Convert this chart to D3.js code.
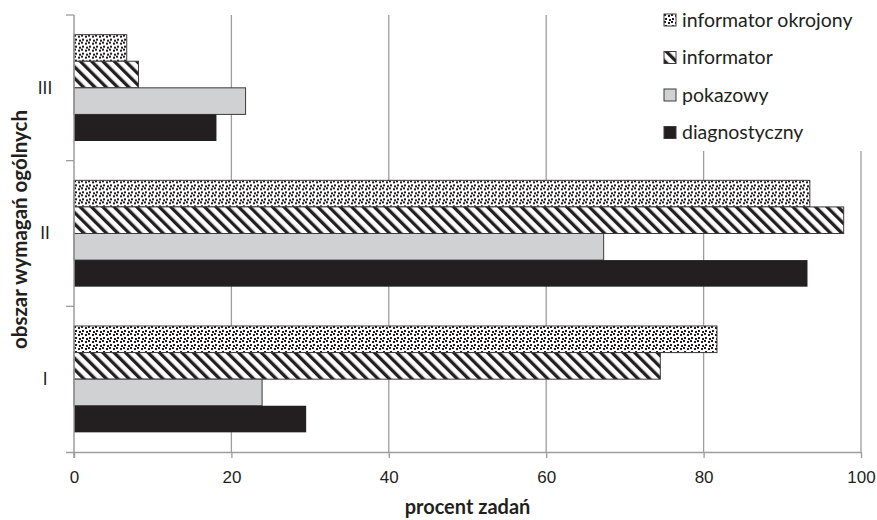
<!DOCTYPE html>
<html>
<head>
<meta charset="utf-8">
<script src="https://cdn.jsdelivr.net/npm/d3@7"></script>
<style>
  body { margin: 0; background: #fff; overflow: hidden; }
  svg { display: block; font-family: Lato, "Open Sans", sans-serif; }
</style>
</head>
<body>
<div id="chart"></div>
<script>
// obszary wymagań (od dołu do góry) i serie (od góry do dołu w grupie)
const categories = ["I", "II", "III"];
const seriesNames = ["informator okrojony", "informator", "pokazowy", "diagnostyczny"];

const okrojony = [81.7, 93.5, 6.7];
const informator = [74.5, 97.8, 8.2];
const pokazowy = [23.9, 67.3, 21.8];
const diagnostyczny = [29.5, 93.2, 18.1];

const xTicks = [0, 20, 40, 60, 80, 100];

const seriesValues = [okrojony, informator, pokazowy, diagnostyczny];

const width = 877, height = 520;
const margin = {top: 15, right: 16, bottom: 68, left: 74};
const innerWidth = width - margin.left - margin.right;
const innerHeight = height - margin.top - margin.bottom;

const svg = d3.select("#chart").append("svg")
  .attr("width", width)
  .attr("height", height);

// wzory wypełnień
const defs = svg.append("defs");

const dots = defs.append("pattern")
  .attr("id", "pat-dots")
  .attr("patternUnits", "userSpaceOnUse")
  .attr("width", 7).attr("height", 7);
dots.append("rect").attr("width", 7).attr("height", 7).attr("fill", "#fff");
[[0, 0], [4, 1], [1, 4], [5, 5]].forEach(([px, py]) => {
  dots.append("rect").attr("x", px).attr("y", py)
    .attr("width", 2).attr("height", 2).attr("fill", "#231f20");
});

const stripes = defs.append("pattern")
  .attr("id", "pat-stripes")
  .attr("patternUnits", "userSpaceOnUse")
  .attr("width", 8).attr("height", 8)
  .attr("patternTransform", "rotate(-45)");
stripes.append("rect").attr("width", 8).attr("height", 8).attr("fill", "#fff");
stripes.append("rect").attr("width", 3.3).attr("height", 8).attr("fill", "#231f20");

const fills = ["url(#pat-dots)", "url(#pat-stripes)", "#d0d1d2", "#231f20"];
const color = d3.scaleOrdinal().domain(seriesNames).range(fills);

const g = svg.append("g").attr("transform", `translate(${margin.left},${margin.top})`);

const x = d3.scaleLinear().domain([0, 100]).range([0, innerWidth]);

const y0 = d3.scaleBand()
  .domain(categories.slice().reverse())
  .range([0, innerHeight])
  .paddingInner(0.27)
  .paddingOuter(0.135);

const y1 = d3.scaleBand()
  .domain(seriesNames)
  .range([0, y0.bandwidth()]);

// siatka
g.append("g")
  .selectAll("line")
  .data(xTicks.slice(1))
  .join("line")
    .attr("x1", d => x(d)).attr("x2", d => x(d))
    .attr("y1", 0).attr("y2", innerHeight)
    .attr("stroke", "#9d9d9d")
    .attr("stroke-width", 1.3);

// słupki
const rows = categories.map((c, i) => ({
  cat: c,
  vals: seriesNames.map((s, j) => ({series: s, value: seriesValues[j][i]}))
}));

g.append("g")
  .selectAll("g")
  .data(rows)
  .join("g")
    .attr("transform", d => `translate(0,${y0(d.cat)})`)
  .selectAll("rect")
  .data(d => d.vals)
  .join("rect")
    .attr("x", x(0))
    .attr("y", d => y1(d.series))
    .attr("width", d => x(d.value) - x(0))
    .attr("height", y1.bandwidth())
    .attr("fill", d => color(d.series))
    .attr("stroke", d => d.series === "diagnostyczny" ? "none" : "#3c3a3b")
    .attr("stroke-width", 1);

// oś X
const xAxis = g.append("g")
  .attr("transform", `translate(0,${innerHeight})`)
  .call(d3.axisBottom(x).tickValues(xTicks).tickSize(6).tickPadding(13));
xAxis.select(".domain").attr("stroke", "#9d9d9d").attr("stroke-width", 1.5)
  .attr("d", `M-8,0.5H${innerWidth}`);
xAxis.selectAll(".tick line").attr("stroke", "#9d9d9d").attr("stroke-width", 1.3);
xAxis.selectAll(".tick text")
  .attr("fill", "#231f20")
  .style("font-size", "17px");

// oś Y
const yBounds = d3.range(categories.length + 1).map(i => i * y0.step());
g.append("line")
  .attr("x1", 0).attr("x2", 0)
  .attr("y1", 0).attr("y2", innerHeight + 6)
  .attr("stroke", "#9d9d9d").attr("stroke-width", 1.5);
g.append("g")
  .selectAll("line")
  .data(yBounds.slice(0, -1))
  .join("line")
    .attr("x1", -8).attr("x2", 0)
    .attr("y1", d => d).attr("y2", d => d)
    .attr("stroke", "#9d9d9d").attr("stroke-width", 1.3);

g.append("g")
  .selectAll("text")
  .data(categories)
  .join("text")
    .attr("x", -29)
    .attr("y", d => y0(d) + y0.bandwidth() / 2)
    .attr("dy", "0.35em")
    .attr("text-anchor", "middle")
    .attr("fill", "#231f20")
    .style("font-size", "17px")
    .text(d => d);

// tytuły osi
svg.append("text")
  .attr("x", margin.left + innerWidth / 2)
  .attr("y", 514)
  .attr("text-anchor", "middle")
  .attr("fill", "#231f20")
  .style("font-size", "20px")
  .style("font-weight", "bold")
  .text("procent zadań");

svg.append("text")
  .attr("transform", `translate(27,${margin.top + innerHeight / 2 - 4}) rotate(-90)`)
  .attr("text-anchor", "middle")
  .attr("fill", "#231f20")
  .style("font-size", "20.5px")
  .style("font-weight", "bold")
  .text("obszar wymagań ogólnych");

// legenda (białe tło zasłania siatkę)
svg.append("rect")
  .attr("x", 656).attr("y", 0)
  .attr("width", width - 656).attr("height", 151)
  .attr("fill", "#fff");

const legend = svg.append("g").attr("transform", "translate(664,14)");
const legendItems = legend.selectAll("g")
  .data(seriesNames)
  .join("g")
    .attr("transform", (d, i) => `translate(0,${i * 37.5})`);
legendItems.append("rect")
  .attr("width", 12).attr("height", 12)
  .attr("fill", d => color(d))
  .attr("stroke", "#3c3a3b").attr("stroke-width", 1);
legendItems.append("text")
  .attr("x", 18)
  .attr("y", 6)
  .attr("dy", "0.35em")
  .attr("fill", "#231f20")
  .style("font-size", "19.5px")
  .text(d => d);
</script>
</body>
</html>
